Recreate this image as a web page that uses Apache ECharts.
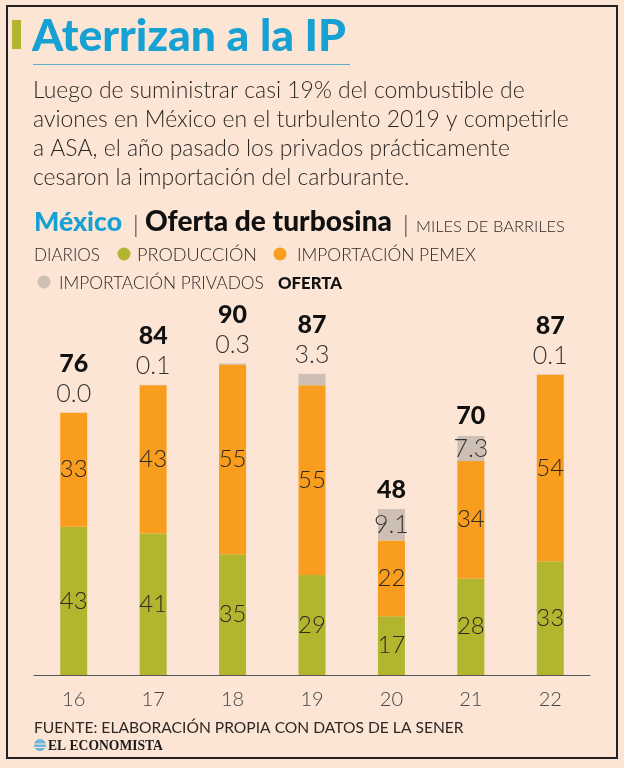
<!DOCTYPE html>
<html><head><meta charset="utf-8">
<script src="https://cdn.jsdelivr.net/npm/echarts@6/dist/echarts.min.js"></script>
<style>html,body{margin:0;padding:0;background:#fde5d6;}#c{width:624px;height:768px;}</style>
</head><body><div id="c"></div>
<script>
// ---- data ----
const years = ['16','17','18','19','20','21','22'];
const produccion = [43, 41, 35, 29, 17, 28, 33];
const importPemex = [33, 43, 55, 55, 22, 34, 54];
const importPrivados = [0.0, 0.1, 0.3, 3.3, 9.1, 7.3, 0.1];
const oferta = [76, 84, 90, 87, 48, 70, 87];

const titleText = 'Aterrizan a la IP';
const descLines = [
  'Luego de suministrar casi 19% del combustible de',
  'aviones en México en el turbulento 2019 y competirle',
  'a ASA, el año pasado los privados prácticamente',
  'cesaron la importación del carburante.'
];
const sourceText = 'FUENTE: ELABORACIÓN PROPIA CON DATOS DE LA SENER';

// ---- style ----
const BG = '#fde5d6', GREEN = '#b2b62f', ORANGE = '#f89d1e', GRAY = '#cdbfb4', BLUE = '#17a1d3', INK = '#2c2824';

const cv = document.createElement('canvas').getContext('2d');
function w(text, weight, fam) { cv.font = weight + ' 100px ' + fam; return cv.measureText(text).width; }
const probe = 'Aterrizan PRODUCCIÓN 2019 turbosina';
function exists(f) { return Math.abs(w(probe, 400, '"' + f + '", monospace') - w(probe, 400, 'monospace')) > 0.5; }
function hasWeight(f, a, b) { return exists(f) && Math.abs(w(probe, a, '"' + f + '"') - w(probe, b, '"' + f + '"')) > 0.5; }
const cands = ['Lato', 'Open Sans', 'Inter', 'Roboto', 'Noto Sans'];
let LIGHT = cands.find(f => hasWeight(f, 300, 400));
let LW = 300;
if (!LIGHT) { LIGHT = 'Lato'; LW = 400; }
let HEAVY = cands.find(f => hasWeight(f, 900, 700));
let HW = 900;
if (!HEAVY) { HEAVY = cands.find(f => hasWeight(f, 800, 700)); HW = 800; }
if (!HEAVY) { HEAVY = 'Lato'; HW = 700; }
const LF = '"' + LIGHT + '", sans-serif', HF = '"' + HEAVY + '", sans-serif';

function fit(text, weight, family, target) { return 100 * target / w(text, weight, family); }
function txt(text, x, baseY, size, weight, fill, family, align) {
  return { type: 'text', x: x, y: baseY - 0.35 * size, silent: true,
    style: { text: text, fill: fill, font: weight + ' ' + size.toFixed(2) + 'px ' + family,
      align: align || 'left', verticalAlign: 'middle', textAlign: align || 'left', textVerticalAlign: 'middle' } };
}
function ftxt(text, x, x2, baseY, weight, fill, family) {
  return txt(text, x, baseY, fit(text, weight, family, x2 - x), weight, fill, family);
}

const titleSize = fit(titleText, HW, HF, 314);
const descSize = fit(descLines[1], LW, LF, 536);

const descBase = [99, 128, 157, 186];
const graphics = [
  { type: 'rect', shape: { x: 7, y: 6, width: 610, height: 752 }, style: { fill: 'none', stroke: '#222', lineWidth: 2 }, silent: true },
  { type: 'rect', shape: { x: 12, y: 20, width: 9, height: 29 }, style: { fill: GREEN }, silent: true },
  { type: 'line', shape: { x1: 33, y1: 64.5, x2: 350, y2: 64.5 }, style: { stroke: '#5fafc9', lineWidth: 1 }, silent: true },
  txt(titleText, 32, 52, titleSize, HW, BLUE, HF),
];
descLines.forEach((l, i) => graphics.push(txt(l, 33, descBase[i], descSize, LW, INK, LF)));
// subtitle row 1
graphics.push(ftxt('México', 34, 122, 232, HW, BLUE, HF));
graphics.push(txt('|', 133, 234, 24, LW, INK, LF));
graphics.push(ftxt('Oferta de turbosina', 145, 392, 232, HW, '#111', HF));
graphics.push(txt('|', 403, 234, 24, LW, INK, LF));
graphics.push(ftxt('MILES DE BARRILES', 416, 565, 232, LW, INK, LF));
// row 2
graphics.push(ftxt('DIARIOS', 34, 100, 261, LW, INK, LF));
graphics.push({ type: 'circle', shape: { cx: 124, cy: 254, r: 6.5 }, style: { fill: GREEN }, silent: true });
graphics.push(ftxt('PRODUCCIÓN', 137, 257, 261, LW, INK, LF));
graphics.push({ type: 'circle', shape: { cx: 280, cy: 254, r: 6.5 }, style: { fill: ORANGE }, silent: true });
graphics.push(ftxt('IMPORTACIÓN PEMEX', 297, 476, 261, LW, INK, LF));
// row 3
graphics.push({ type: 'circle', shape: { cx: 44, cy: 282, r: 6.5 }, style: { fill: GRAY }, silent: true });
graphics.push(ftxt('IMPORTACIÓN PRIVADOS', 59, 264, 289, LW, INK, LF));
graphics.push(ftxt('OFERTA', 278, 342, 289, HW, '#111', HF));
// footer
graphics.push(ftxt(sourceText, 34, 464, 733, 400, INK, LF));
graphics.push({ type: 'circle', shape: { cx: 40, cy: 745, r: 6 }, style: { fill: '#6fb6dc' }, silent: true });
graphics.push({ type: 'line', shape: { x1: 34, y1: 744, x2: 46, y2: 744 }, style: { stroke: '#fde5d6', lineWidth: 1 }, silent: true });
graphics.push({ type: 'line', shape: { x1: 34, y1: 747.5, x2: 46, y2: 747.5 }, style: { stroke: '#fde5d6', lineWidth: 1 }, silent: true });
graphics.push(ftxt('EL ECONOMISTA', 48, 163, 751, 'bold', '#1b1b1b', '"Liberation Serif", serif'));

const segLabel = { show: true, position: 'inside', color: INK, fontFamily: LF, fontWeight: LW, fontSize: 24,
  formatter: p => String(p.value) };

const privData = importPrivados.map(v => ({
  value: v,
  label: v > 5 ? { position: 'inside' } : { position: 'top', distance: 6 }
}));
const totalData = oferta.map((t, i) => ({
  value: 0,
  label: { distance: importPrivados[i] > 5 ? 7 : 36 }
}));

const chart = echarts.init(document.getElementById('c'), null, { renderer: 'canvas' });
chart.setOption({
  backgroundColor: BG,
  animation: false,
  graphic: graphics,
  grid: { left: 34, right: 34, top: 330, bottom: 93, containLabel: false },
  xAxis: {
    type: 'category', data: years,
    axisLine: { lineStyle: { color: '#555', width: 1.2 } },
    axisTick: { show: false },
    axisLabel: { color: '#444', fontFamily: LF, fontWeight: LW, fontSize: 20, margin: 15 }
  },
  yAxis: { type: 'value', min: 0, max: 100, show: false, splitLine: { show: false } },
  series: [
    { name: 'PRODUCCIÓN', type: 'bar', stack: 's', barWidth: 27, data: produccion, itemStyle: { color: GREEN }, label: segLabel },
    { name: 'IMPORTACIÓN PEMEX', type: 'bar', stack: 's', barWidth: 27, data: importPemex, itemStyle: { color: ORANGE }, label: segLabel },
    { name: 'IMPORTACIÓN PRIVADOS', type: 'bar', stack: 's', barWidth: 27, data: privData, itemStyle: { color: GRAY },
      label: { show: true, color: '#333', fontFamily: LF, fontWeight: LW, fontSize: 25,
        formatter: p => Number(p.value).toFixed(1) } },
    { name: 'OFERTA', type: 'bar', stack: 's', barWidth: 27, data: totalData, itemStyle: { color: 'transparent' },
      label: { show: true, position: 'top', color: '#111', fontFamily: HF, fontWeight: HW, fontSize: 25,
        formatter: p => String(oferta[p.dataIndex]) } }
  ]
});
</script>
</body></html>
